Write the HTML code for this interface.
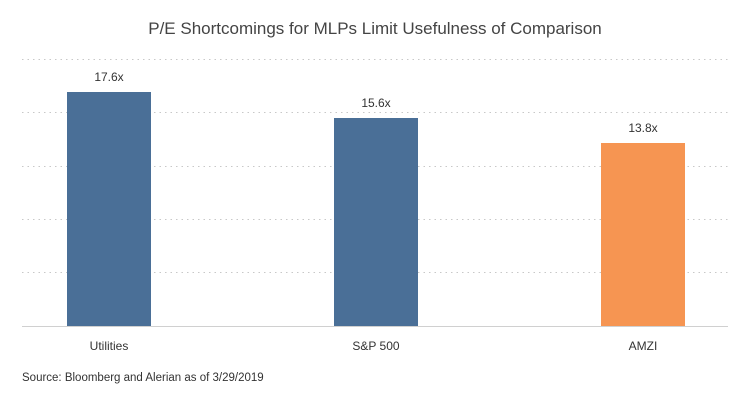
<!DOCTYPE html>
<html><head><style>
html,body{margin:0;padding:0;background:#fff;}
body{width:750px;height:405px;overflow:hidden;font-family:"Liberation Sans",sans-serif;}
</style></head><body>
<svg width="750" height="405" xmlns="http://www.w3.org/2000/svg" font-family="Liberation Sans, sans-serif">
<rect width="750" height="405" fill="#fff"/>
<text x="375" y="34" text-anchor="middle" font-size="17" fill="#444">P/E Shortcomings for MLPs Limit Usefulness of Comparison</text>
<g stroke="#c8c8c8" stroke-width="1" stroke-dasharray="1.5,4">
<line x1="22" y1="59.5" x2="728" y2="59.5"/>
<line x1="22" y1="112.5" x2="728" y2="112.5"/>
<line x1="22" y1="166.5" x2="728" y2="166.5"/>
<line x1="22" y1="219.5" x2="728" y2="219.5"/>
<line x1="22" y1="272.5" x2="728" y2="272.5"/>
</g>
<line x1="22" y1="326.5" x2="728" y2="326.5" stroke="#d0d0d0"/>
<rect x="67" y="92" width="84" height="234" fill="#4a6f97"/>
<rect x="334" y="118" width="84" height="208" fill="#4a6f97"/>
<rect x="601" y="143" width="84" height="183" fill="#f69552"/>
<g font-size="12" fill="#333" text-anchor="middle">
<text x="109" y="81">17.6x</text>
<text x="376" y="107">15.6x</text>
<text x="643" y="132">13.8x</text>
<text x="109" y="350">Utilities</text>
<text x="376" y="350">S&amp;P 500</text>
<text x="643" y="350">AMZI</text>
</g>
<text x="22" y="381" font-size="11.5" fill="#333">Source: Bloomberg and Alerian as of 3/29/2019</text>
</svg>
</body></html>
